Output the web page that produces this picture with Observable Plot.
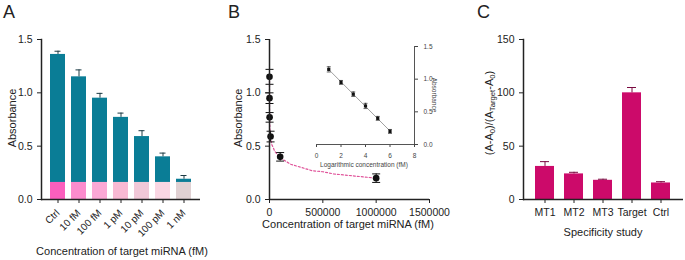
<!DOCTYPE html>
<html><head><meta charset="utf-8">
<script src="https://cdn.jsdelivr.net/npm/d3@7"></script>
<script src="https://cdn.jsdelivr.net/npm/@observablehq/plot@0.6"></script>
<style>
html,body{margin:0;padding:0;background:#fff;}
#wrap{position:relative;width:685px;height:260px;background:#fff;font-family:"Liberation Sans",Arial,sans-serif;color:#222;overflow:hidden;}
.abs{position:absolute;}
.lbl{position:absolute;white-space:nowrap;font-size:11px;line-height:1;transform:translate(-50%,-50%);}
.rot{transform:translate(-50%,-50%) rotate(-90deg);}
.rot90{transform:translate(-50%,-50%) rotate(90deg);}
.letter{position:absolute;font-size:18px;line-height:1;}
sub{font-size:70%;vertical-align:-2px;line-height:0;}
</style></head>
<body><div id="wrap"></div>
<script>
// ---- Panel A data ----
const catsA = ["Ctrl","10 fM","100 fM","1 pM","10 pM","100 pM","1 nM"];
const absA = [1.36,1.15,0.95,0.77,0.59,0.40,0.19];
const errA = [0.03,0.065,0.045,0.04,0.055,0.035,0.035];
const blankA = [0.16,0.16,0.16,0.16,0.16,0.16,0.16];
const pinkA = ["#fb5fbd","#fb8ccd","#fba8d5","#f8b9d3","#f1c8d8","#f9d6e3","#e0d1d3"];
const ticksA = [0,0.5,1.0,1.5];
// ---- Panel B data ----
const concB = [10,100,1000,10000,100000,1000000];
const absB = [1.15,0.95,0.77,0.59,0.40,0.20];
const errB = [0.07,0.05,0.045,0.05,0.04,0.04];
const fitX = [10,100,1000,5000,10000,20000,50000,100000,200000,300000,400000,500000,600000,700000,800000,900000,1000000];
const fitY = [1.15,0.96,0.77,0.64,0.58,0.52,0.45,0.39,0.33,0.30,0.27,0.26,0.24,0.23,0.22,0.21,0.20];
const ticksBx = [0,500000,1000000,1500000];
const logB = [1,2,3,4,5,6];
const errLog = [0.04,0.03,0.035,0.04,0.03,0.03];
const ticksInsetX = [0,2,4,6,8];
// ---- Panel C data ----
const catsC = ["MT1","MT2","MT3","Target","Ctrl"];
const valC = [31,24,18,100,15.5];
const errC = [4.5,1.5,1,5,1.2];
const ticksC = [0,50,100,150];

const teal = "#0a7d96", mag = "#cc0a6a";
const wrap = document.getElementById("wrap");
const baseStyle = {fontFamily:"Liberation Sans, Arial, sans-serif", fontSize:"10.5px", color:"#222", background:"transparent", overflow:"visible"};
const capSym = {draw(ctx,size){const r=Math.sqrt(size/Math.PI);ctx.moveTo(-r,0);ctx.lineTo(r,0);}};

function place(el,left,top){const d=document.createElement("div");d.className="abs";d.style.left=left+"px";d.style.top=top+"px";d.appendChild(el);wrap.appendChild(d);}
function label(html,x,y,cls){const d=document.createElement("div");d.className="lbl"+(cls?" "+cls:"");d.style.left=x+"px";d.style.top=y+"px";d.innerHTML=html;wrap.appendChild(d);}
function letter(t,x,y){const d=document.createElement("div");d.className="letter";d.style.left=x+"px";d.style.top=y+"px";d.textContent=t;wrap.appendChild(d);}

// Panel A
const dataA = catsA.map((c,i)=>({cat:c,v:absA[i],e:errA[i],b:blankA[i],col:pinkA[i]}));
const plotA = Plot.plot({
  width:225,height:260,marginLeft:41,marginRight:25,marginTop:39,marginBottom:61,
  style:baseStyle,
  x:{domain:catsA,paddingInner:0.27,paddingOuter:0.28,label:null},
  y:{domain:[0,1.5],label:null},
  color:{type:"identity"},
  marks:[
    Plot.barY(dataA,{x:"cat",y:"v",fill:teal}),
    Plot.barY(dataA,{x:"cat",y:"b",fill:"col"}),
    Plot.ruleX(dataA,{x:"cat",y1:"v",y2:d=>d.v+d.e,stroke:"#1d3c45",strokeWidth:1}),
    Plot.tickY(dataA,{x:"cat",y:d=>d.v+d.e,stroke:"#1d3c45",strokeWidth:1,insetLeft:4.5,insetRight:4.5}),
    Plot.axisY({ticks:ticksA,tickFormat:".1f",tickSize:4,label:null,fontSize:10.5}),
    Plot.axisX({tickRotate:-45,tickSize:4,label:null,fontSize:10}),
    Plot.frame({anchor:"left",strokeWidth:1.5}),
    Plot.ruleY([0],{strokeWidth:1.5})
  ]
});
place(plotA,0,0);

// Panel B
const dataB = concB.map((c,i)=>({x:c,v:absB[i],e:errB[i]}));
const fitB = fitX.map((x,i)=>({x,y:fitY[i]}));
const plotB = Plot.plot({
  width:235,height:260,marginLeft:44,marginRight:31,marginTop:39,marginBottom:61,
  style:baseStyle,
  x:{domain:[0,1500000],label:null},
  y:{domain:[0,1.5],label:null},
  marks:[
    Plot.line(fitB,{x:"x",y:"y",stroke:"#e0559b",strokeWidth:1.2,strokeDasharray:"2,2"}),
    Plot.ruleX(dataB,{x:"x",y1:d=>d.v-d.e,y2:d=>d.v+d.e,stroke:"#111"}),
    Plot.dot(dataB,{x:"x",y:d=>d.v+d.e,symbol:capSym,r:4,stroke:"#111",strokeWidth:1}),
    Plot.dot(dataB,{x:"x",y:d=>d.v-d.e,symbol:capSym,r:4,stroke:"#111",strokeWidth:1}),
    Plot.dot(dataB,{x:"x",y:"v",r:3.3,fill:"#111"}),
    Plot.axisY({ticks:ticksA,tickFormat:".1f",tickSize:4,label:null}),
    Plot.axisX({ticks:ticksBx,tickFormat:"d",tickSize:4,label:null}),
    Plot.ruleX([0],{strokeWidth:1.5}),
    Plot.ruleY([0],{strokeWidth:1.5})
  ]
});
place(plotB,225,0);

// Inset
const dataI = logB.map((l,i)=>({x:l,v:absB[i],e:errLog[i]}));
const plotI = Plot.plot({
  width:150,height:140,marginLeft:16,marginRight:36,marginTop:16,marginBottom:26,
  style:Object.assign({},baseStyle,{fontSize:"6.5px",color:"#444"}),
  x:{domain:[0,8],label:null},
  y:{domain:[0,1.5],label:null},
  marks:[
    Plot.linearRegressionY(dataI,{x:"x",y:"v",stroke:"#888",strokeWidth:0.8,ci:0}),
    Plot.ruleX(dataI,{x:"x",y1:d=>d.v-d.e,y2:d=>d.v+d.e,stroke:"#222",strokeWidth:0.7}),
    Plot.dot(dataI,{x:"x",y:d=>d.v+d.e,symbol:capSym,r:2,stroke:"#222",strokeWidth:0.7}),
    Plot.dot(dataI,{x:"x",y:d=>d.v-d.e,symbol:capSym,r:2,stroke:"#222",strokeWidth:0.7}),
    Plot.dot(dataI,{x:"x",y:"v",r:1.8,fill:"#111",symbol:"square"}),
    Plot.axisY({anchor:"right",ticks:ticksA,tickFormat:".1f",tickSize:3,label:null,fontSize:6.5}),
    Plot.axisX({ticks:ticksInsetX,tickSize:3,label:null,fontSize:6.5}),
    Plot.ruleX([8],{stroke:"#555",strokeWidth:1}),
    Plot.ruleY([0],{stroke:"#555",strokeWidth:1})
  ]
});
place(plotI,300,30);

// Panel C
const dataC = catsC.map((c,i)=>({cat:c,v:valC[i],e:errC[i]}));
const plotC = Plot.plot({
  width:225,height:260,marginLeft:63,marginRight:2,marginTop:39,marginBottom:61,
  style:baseStyle,
  x:{domain:catsC,paddingInner:1/3,paddingOuter:1/3,label:null},
  y:{domain:[0,150],label:null},
  marks:[
    Plot.barY(dataC,{x:"cat",y:"v",fill:mag}),
    Plot.ruleX(dataC,{x:"cat",y1:"v",y2:d=>d.v+d.e,stroke:"#7a0a40",strokeWidth:1}),
    Plot.tickY(dataC,{x:"cat",y:d=>d.v+d.e,stroke:"#7a0a40",strokeWidth:1,insetLeft:5,insetRight:5}),
    Plot.axisY({ticks:ticksC,tickSize:4,label:null}),
    Plot.axisX({tickSize:4,label:null}),
    Plot.frame({anchor:"left",strokeWidth:1.5}),
    Plot.ruleY([0],{strokeWidth:1.5})
  ]
});
place(plotC,460,0);

// Labels
letter("A",3,3); letter("B",228,3); letter("C",477,3);
label("Absorbance",12,118,"rot");
label("Concentration of target miRNA (fM)",122,251);
label("Absorbance",238,118,"rot");
label("Concentration of target miRNA (fM)",348,224);
label('<span style="font-size:6.5px;color:#444">Logarithmic concentration (fM)</span>',364,163);
label('<span style="font-size:6.5px;color:#444">Absorbance</span>',435,95,"rot90");
label("(A-A<sub>0</sub>)/(A<sub>Target</sub>-A<sub>0</sub>)",489,113,"rot");
label("Specificity study",603,232);
</script></body></html>
